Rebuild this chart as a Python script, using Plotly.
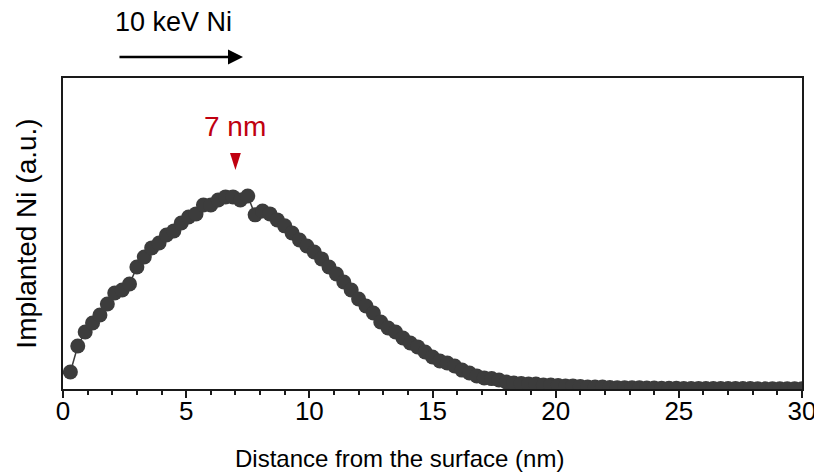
import plotly.graph_objects as go

# ---- data ----
depth_nm = [0.3, 0.6, 0.9, 1.2, 1.5, 1.8, 2.1, 2.4, 2.7, 3.0,
            3.3, 3.6, 3.9, 4.2, 4.5, 4.8, 5.1, 5.4, 5.7, 6.0,
            6.3, 6.6, 6.9, 7.2, 7.5, 7.8, 8.1, 8.4, 8.7, 9.0,
            9.3, 9.6, 9.9, 10.2, 10.5, 10.8, 11.1, 11.4, 11.7, 12.0,
            12.3, 12.6, 12.9, 13.2, 13.5, 13.8, 14.1, 14.4, 14.7, 15.0,
            15.3, 15.6, 15.9, 16.2, 16.5, 16.8, 17.1, 17.4, 17.7, 18.0,
            18.3, 18.6, 18.9, 19.2, 19.5, 19.8, 20.1, 20.4, 20.7, 21.0,
            21.3, 21.6, 21.9, 22.2, 22.5, 22.8, 23.1, 23.4, 23.7, 24.0,
            24.3, 24.6, 24.9, 25.2, 25.5, 25.8, 26.1, 26.4, 26.7, 27.0,
            27.3, 27.6, 27.9, 28.2, 28.5, 28.8, 29.1, 29.4, 29.7, 30.0]

implanted_ni = [8.8, 22.3, 29.5, 34.2, 38.3, 44.0, 49.7, 51.3, 54.4, 63.2,
                68.4, 73.1, 75.6, 79.8, 81.9, 86.0, 89.1, 90.7, 95.3, 95.3,
                97.9, 99.5, 99.5, 97.9, 100.0, 90.2, 92.2, 90.7, 87.6, 84.5,
                80.8, 77.2, 74.1, 71.0, 67.4, 63.2, 59.6, 55.4, 51.3, 46.6,
                43.0, 39.4, 34.7, 31.6, 29.5, 26.4, 23.8, 21.8, 19.2, 16.6,
                14.5, 13.5, 11.9, 9.8, 8.3, 6.7, 5.7, 5.4, 4.7, 3.6,
                3.1, 2.8, 2.6, 2.6, 2.1, 2.1, 1.8, 1.6, 1.6, 1.3,
                1.0, 1.0, 1.0, 0.8, 0.7, 0.7, 0.6, 0.6, 0.5, 0.5,
                0.4, 0.4, 0.4, 0.3, 0.3, 0.3, 0.3, 0.2, 0.2, 0.2,
                0.2, 0.2, 0.2, 0.1, 0.1, 0.1, 0.1, 0.1, 0.1, 0.1]

x_tick_vals = [0, 5, 10, 15, 20, 25, 30]
x_tick_text = ["0", "5", "10", "15", "20", "25", "30"]

peak_depth = 7
peak_label = "7 nm"
beam_label = "10 keV Ni"
x_title = "Distance from the surface (nm)"
y_title = "Implanted Ni (a.u.)"

# ---- styles ----
DARK = "#3c3c3c"
RED = "#c00010"
ARIAL = "Liberation Sans, Arial, sans-serif"

fig = go.Figure()
fig.add_trace(go.Scatter(
    x=depth_nm, y=implanted_ni, mode="lines+markers",
    line=dict(color=DARK, width=1.5),
    marker=dict(color=DARK, size=15, line=dict(width=0)),
    showlegend=False, cliponaxis=True,
))

y_top = 161.1

fig.update_layout(
    width=822, height=473,
    margin=dict(l=55, r=28, t=70, b=92, autoexpand=False),
    paper_bgcolor="white", plot_bgcolor="white",
    font=dict(family=ARIAL, color="black", size=24),
    xaxis=dict(
        range=[0, 30], tickvals=x_tick_vals, ticktext=x_tick_text,
        ticks="outside", ticklen=7, tickwidth=1.5, tickcolor="#1a1a1a",
        minor=dict(dtick=1, ticks="outside", ticklen=4, tickwidth=1.5, tickcolor="#1a1a1a"),
        showline=True, linecolor="#1a1a1a", linewidth=2, mirror=True,
        showgrid=False, zeroline=False, automargin=False,
        tickfont=dict(family=ARIAL, size=26), ticklabelstandoff=-9,
    ),
    yaxis=dict(
        range=[0, y_top], showticklabels=False, ticks="",
        showline=True, linecolor="#1a1a1a", linewidth=2, mirror=True,
        showgrid=False, zeroline=False, automargin=False,
        title=dict(text=y_title, font=dict(family=ARIAL, size=28), standoff=16),
    ),
)

# x-axis title (placed slightly left of centre, as in the reference)
fig.add_annotation(
    x=0.456, y=-0.222, xref="x domain", yref="y domain", text=x_title, showarrow=False,
    xanchor="center", yanchor="middle",
    font=dict(family=ARIAL, size=24, color="black"),
)

# peak marker triangle and label
fig.add_shape(
    type="path", xref="x", yref="y",
    path=f"M {peak_depth-0.22} 122.3 L {peak_depth+0.22} 122.3 L {peak_depth} 113.5 Z",
    fillcolor=RED, line=dict(width=0),
)
fig.add_annotation(
    x=peak_depth, y=135.8, xref="x", yref="y", text=peak_label, showarrow=False,
    xanchor="center", yanchor="middle",
    font=dict(family=ARIAL, size=28, color=RED),
)

# beam direction label and arrow
fig.add_annotation(
    x=0.150, y=1.18, xref="x domain", yref="y domain", text=beam_label, showarrow=False,
    xanchor="center", yanchor="middle",
    font=dict(family=ARIAL, size=27, color="black"),
)
fig.add_annotation(
    x=0.2436, y=1.0675, ax=0.0744, ay=1.0675,
    xref="x domain", yref="y domain", axref="x domain", ayref="y domain",
    text="", showarrow=True, arrowhead=2, arrowsize=1.2, arrowwidth=2.5, arrowcolor="black",
)

fig.write_html("out.html")
